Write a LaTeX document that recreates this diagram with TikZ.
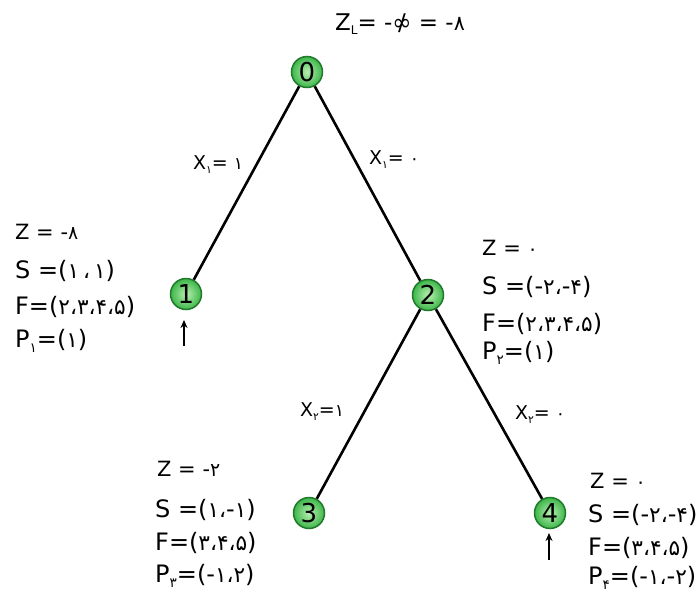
\documentclass[tikz,border=0pt]{standalone}
\usepackage{fontspec}
\setmainfont{DejaVu Sans}
\newfontfamily\fa[Scale=0.9]{DejaVu Sans}
\newcommand\pd[1]{{\fa #1}}
\newcommand\sbs[1]{\raisebox{-4pt}{\fontsize{12}{12}\selectfont #1}}
\newcommand\sbsb[1]{\raisebox{-5pt}{\fontsize{15}{15}\selectfont #1}}
\newcommand\slinf{\ooalign{∞\cr\hidewidth/\hidewidth\cr}}
\definecolor{ringgreen}{HTML}{1F7A2A}
\definecolor{ingreen}{HTML}{B8F0B0}
\definecolor{outgreen}{HTML}{3DB54A}
\usetikzlibrary{arrows.meta}
\tikzset{
  st/.style={circle, minimum size=31pt, inner sep=0pt, draw=ringgreen, line width=1.5pt,
    inner color=ingreen, outer color=outgreen, font=\fontsize{26}{26}\selectfont},
  edge/.style={line width=2.6pt, black},
  elbl/.style={inner sep=0pt, font=\fontsize{19}{19}\selectfont},
  infoz/.style={inner sep=0pt, anchor=base west, font=\fontsize{21}{21}\selectfont},
  info/.style={inner sep=0pt, anchor=base west, font=\fontsize{24}{24}\selectfont},
  uparrow/.style={line width=1.8pt, -{Stealth[length=8pt,width=7pt]}}
}
\begin{document}
\begin{tikzpicture}[x=1pt,y=-1pt]
\path[fill=white] (0,0) rectangle (700,600);
\useasboundingbox (0,0) rectangle (700,600);

% tree nodes
\node[st] (n0) at (307,72) {0};
\node[st] (n1) at (186,294) {1};
\node[st] (n2) at (428,295) {2};
\node[st] (n3) at (309,513) {3};
\node[st] (n4) at (550,513) {4};

% edges
\draw[edge] (n0) -- (n1);
\draw[edge] (n0) -- (n2);
\draw[edge] (n2) -- (n3);
\draw[edge] (n2) -- (n4);

% edge labels
\node[elbl] (l01) at (218,165) {X\sbs{\pd{۱}}= \pd{۱}};
\node[elbl] (l02) at (394,160) {X\sbs{\pd{۱}}= \pd{۰}};
\node[elbl] (l23) at (322,412) {X\sbs{\pd{۲}}=\pd{۱}};
\node[elbl] (l24) at (540,415) {X\sbs{\pd{۲}}= \pd{۰}};

% top label
\node[inner sep=0pt, font=\fontsize{23}{23}\selectfont] (zl) at (400,24) {Z\sbs{L}= -\slinf{} = -\pd{۸}};

% node 1 info
\node[infoz] (i1z) at (15,239) {Z = -\pd{۸}};
\node[info] (i1s) at (15,278) {S =(\pd{۱}\,\pd{،}\,\pd{۱})};
\node[info] (i1f) at (15,314) {F=(\pd{۲}\pd{،}\pd{۳}\pd{،}\pd{۴}\pd{،}\pd{۵})};
\node[info] (i1p) at (15,347) {P\sbsb{\pd{۱}}=(\pd{۱})};

% node 2 info
\node[infoz] (i2z) at (482,255) {Z = \pd{۰}};
\node[info] (i2s) at (482,294) {S =(-\pd{۲}\pd{،}-\pd{۴})};
\node[info] (i2f) at (482,331) {F=(\pd{۲}\pd{،}\pd{۳}\pd{،}\pd{۴}\pd{،}\pd{۵})};
\node[info] (i2p) at (482,359) {P\sbsb{\pd{۲}}=(\pd{۱})};

% node 3 info
\node[infoz] (i3z) at (157,476) {Z = -\pd{۲}};
\node[info] (i3s) at (155,517) {S =(\pd{۱}\pd{،}-\pd{۱})};
\node[info] (i3f) at (155,550) {F=(\pd{۳}\pd{،}\pd{۴}\pd{،}\pd{۵})};
\node[info] (i3p) at (155,582) {P\sbsb{\pd{۳}}=(-\pd{۱}\pd{،}\pd{۲})};

% node 4 info
\node[infoz] (i4z) at (590,488) {Z = \pd{۰}};
\node[info] (i4s) at (588,522) {S =(-\pd{۲}\pd{،}-\pd{۴})};
\node[info] (i4f) at (588,555) {F=(\pd{۳}\pd{،}\pd{۴}\pd{،}\pd{۵})};
\node[info] (i4p) at (588,584) {P\sbsb{\pd{۴}}=(-\pd{۱}\pd{،}-\pd{۲})};

% arrows
\coordinate (a1b) at (184,346);
\coordinate (a1t) at (184,320);
\draw[uparrow] (a1b) -- (a1t);
\coordinate (a4b) at (549,560);
\coordinate (a4t) at (549,533);
\draw[uparrow] (a4b) -- (a4t);
\end{tikzpicture}
\end{document}
